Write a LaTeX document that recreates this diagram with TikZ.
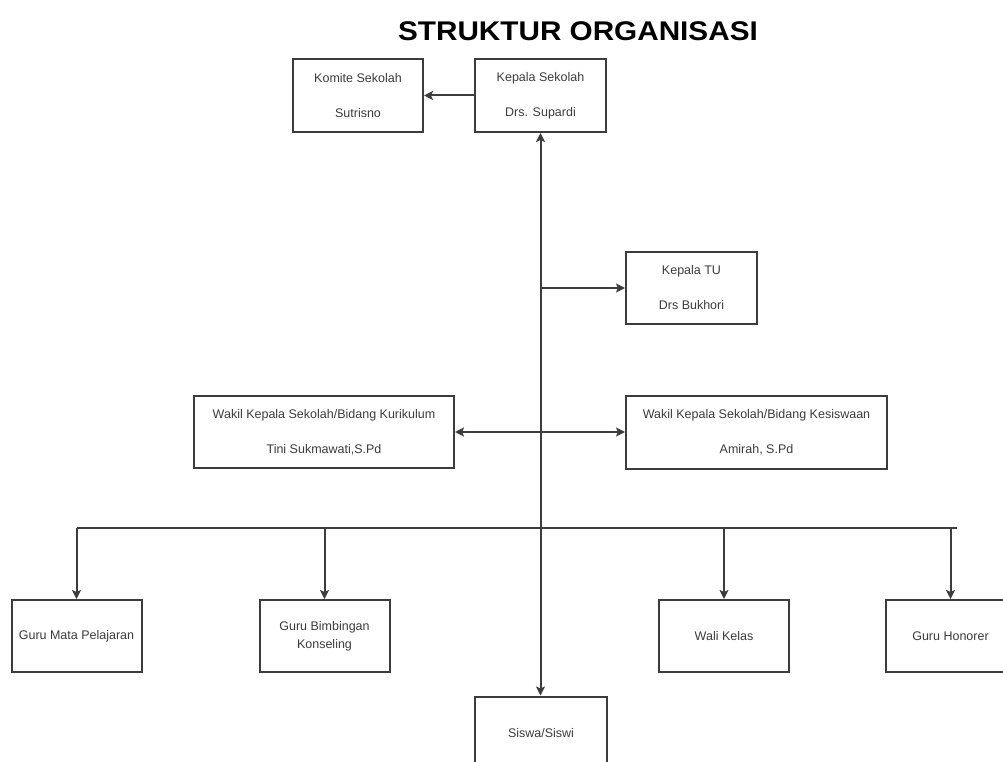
\documentclass[tikz,border=0pt]{standalone}
\usepackage{fontspec}
\setmainfont{Liberation Sans}
\usetikzlibrary{arrows.meta,calc}
\definecolor{boxline}{RGB}{60,60,60}
\definecolor{txt}{RGB}{60,60,60}
\begin{document}
\begin{tikzpicture}[x=1pt,y=-1pt,
  box/.style={draw=boxline,line width=2pt,minimum width=130pt,minimum height=73pt,inner sep=0pt,
    align=center,text=txt,font=\fontsize{12.5}{35}\selectfont},
  conn/.style={draw=boxline,line width=2pt},
  tip/.style={-{Stealth[length=9pt,width=9pt,inset=2pt]}},
  tips/.style={{Stealth[length=9pt,width=9pt,inset=2pt]}-{Stealth[length=9pt,width=9pt,inset=2pt]}}]
\useasboundingbox (0,0) rectangle (1003,762);
\clip (0,0) rectangle (1003,762);
\fill[white] (0,0) rectangle (1003,762);
\node[font=\bfseries\fontsize{27}{30}\selectfont] (title) at (578,31) {\scalebox{1.1}[1]{STRUKTUR ORGANISASI}};
\node[box] (komite) at (358,95.5) {Komite Sekolah\\Sutrisno};
\node[box,minimum width=131pt] (kepala) at (540.5,95.5) {Kepala Sekolah\\Drs. Supardi};
\node[box,minimum width=131pt,minimum height=72pt] (tu) at (691.5,288) {Kepala TU\\Drs Bukhori};
\node[box,minimum width=260pt,minimum height=72pt] (wk) at (324,432) {Wakil Kepala Sekolah/Bidang Kurikulum\\Tini Sukmawati,S.Pd};
\node[box,minimum width=261pt] (ws) at (756.5,432.5) {Wakil Kepala Sekolah/Bidang Kesiswaan\\Amirah, S.Pd};
\node[box,minimum height=72pt] (gm) at (76.5,636) {Guru Mata Pelajaran};
\node[box,minimum height=72pt,font=\fontsize{12.5}{18}\selectfont] (gb) at (324.5,636) {Guru Bimbingan\\Konseling};
\node[box,minimum height=72pt] (wali) at (724,636) {Wali Kelas};
\node[box,minimum height=72pt] (hon) at (950.5,636) {Guru Honorer};
\node[box,minimum width=132pt] (siswa) at (541,733) {Siswa/Siswi};
% connectors
\draw[conn,tip] (kepala.west) -- (komite.east);
\draw[conn,tips] (kepala.south) -- (kepala.south |- siswa.north);
\coordinate (tuj) at (kepala.south |- tu.west);
\draw[conn,tip] (tuj) -- (tu.west);
\draw[conn,tips] (wk.east) -- (wk.east -| ws.west);
\coordinate (busL) at (76.5,528);
\coordinate (busR) at (957,528);
\draw[conn] (busL) -- (busR);
\draw[conn,tip] (busL) -- (gm.north);
\draw[conn,tip] (gb.north |- busL) -- (gb.north);
\draw[conn,tip] (wali.north |- busL) -- (wali.north);
\draw[conn,tip] (hon.north |- busL) -- (hon.north);
\end{tikzpicture}
\end{document}
